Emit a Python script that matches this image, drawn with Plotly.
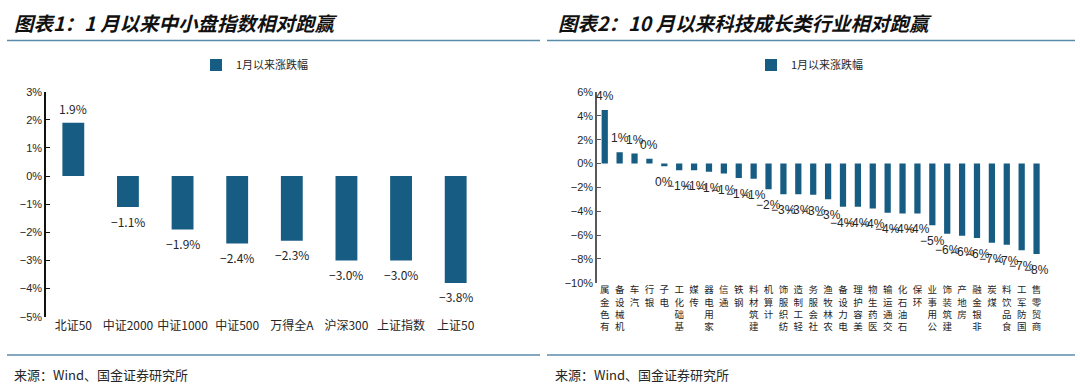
import plotly.graph_objects as go

# ---------------- data ----------------
cats1 = ["北证50", "中证2000", "中证1000", "中证500", "万得全A", "沪深300", "上证指数", "上证50"]
vals1 = [1.9, -1.1, -1.9, -2.4, -2.3, -3.0, -3.0, -3.8]

cats2 = ["有色金属", "机械设备", "汽车", "银行", "电子", "基础化工", "传媒", "家用电器", "通信", "钢铁",
         "建筑材料", "计算机", "纺织服饰", "轻工制造", "社会服务", "农林牧渔", "电力设备", "美容护理", "医药生物", "交通运输",
         "石油石化", "环保", "公用事业", "建筑装饰", "房地产", "非银金融", "煤炭", "食品饮料", "国防军工", "商贸零售"]
vals2 = [4.48, 0.95, 0.84, 0.39, -0.22, -0.56, -0.56, -0.70, -0.84, -1.22,
         -1.28, -2.15, -2.57, -2.57, -2.63, -2.99, -3.63, -3.63, -3.77, -4.14,
         -4.19, -4.19, -5.17, -5.90, -6.07, -6.26, -6.65, -6.82, -7.27, -7.60]

series_name = "1月以来涨跌幅"
title1 = "图表1：1 月以来中小盘指数相对跑赢"
title2 = "图表2：10 月以来科技成长类行业相对跑赢"
source = "来源：Wind、国金证券研究所"

yr1 = [-5, 3]
yr2 = [-10, 6]
yticks1 = list(range(-5, 4))
yticks2 = list(range(-10, 7, 2))

# ---------------- style ----------------
BAR = "#175d83"
TXT = "#262626"
CJK = "Noto Sans CJK SC"
W, H = 1080, 388

dom_x1 = [46 / W, 483 / W]
dom_y1 = [(H - 316.7) / H, (H - 91.7) / H]
dom_x2 = [597.3 / W, 1044 / W]
dom_y2 = [(H - 282.7) / H, (H - 92) / H]


def zero_pos(dom, rng):
    return dom[0] + (0 - rng[0]) / (rng[1] - rng[0]) * (dom[1] - dom[0])


def stacked(s):
    return "<br>".join(reversed(list(s)))


def pct(v):
    return f"{v}%".replace("-", "−")


fig = go.Figure()

fig.add_trace(go.Bar(
    x=cats1, y=vals1, name=series_name, marker=dict(color=BAR, line=dict(width=0)),
    width=0.4, xaxis="x", yaxis="y", legend="legend", showlegend=True))

fig.add_trace(go.Bar(
    x=cats2, y=vals2, name=series_name, marker=dict(color=BAR, line=dict(width=0)),
    width=0.42, xaxis="x2", yaxis="y2", legend="legend2", showlegend=True))

# data labels
for c, v in zip(cats1, vals1):
    fig.add_annotation(x=c, y=v, xref="x", yref="y", text=pct(f"{v:.1f}"), showarrow=False,
                       yshift=14 if v >= 0 else -14, yanchor="middle",
                       font=dict(family=CJK, size=12, color=TXT))
for c, v in zip(cats2, vals2):
    fig.add_annotation(x=c, y=v, xref="x2", yref="y2", text=pct(round(v)), showarrow=False,
                       yshift=14 if v >= 0 else -16, yanchor="middle",
                       font=dict(family="Liberation Sans Narrow, Liberation Sans", size=12, color=TXT))

n1, n2 = len(cats1), len(cats2)

fig.update_layout(
    width=W, height=H, margin=dict(l=0, r=0, t=0, b=0, pad=0, autoexpand=False),
    paper_bgcolor="white", plot_bgcolor="white", showlegend=True,
    xaxis=dict(domain=dom_x1, anchor="y", type="category", range=[-0.5, n1 - 0.5],
               showline=False, ticks="", showgrid=False,
               tickfont=dict(family=CJK, size=12, color=TXT)),
    yaxis=dict(domain=dom_y1, anchor="x", range=yr1, tickvals=yticks1,
               ticktext=[pct(t) for t in yticks1], showgrid=False, zeroline=False, showline=True,
               linecolor="#111111", linewidth=1.5, ticks="inside", ticklen=4, tickcolor="#111111",
               tickfont=dict(family="Liberation Sans", size=11, color=TXT)),
    xaxis3=dict(overlaying="x", anchor="free", position=zero_pos(dom_y1, yr1), type="linear",
                range=[-0.5, n1 - 0.5], tickvals=[i + 0.5 for i in range(n1)],
                showticklabels=False, ticks="inside", ticklen=4, tickcolor="#111111",
                showline=True, linecolor="#111111", linewidth=1.2, showgrid=False, zeroline=False),
    xaxis2=dict(domain=dom_x2, anchor="y2", type="category", range=[-0.5, n2 - 0.5],
                showline=False, ticks="", showgrid=False,
                tickvals=cats2, ticktext=[stacked(c) for c in cats2],
                tickfont=dict(family=CJK, size=9.5, color=TXT)),
    yaxis2=dict(domain=dom_y2, anchor="x2", range=yr2, tickvals=yticks2,
                ticktext=[pct(t) for t in yticks2], showgrid=False, zeroline=False, showline=True,
                linecolor="#595959", linewidth=2, ticks="inside", ticklen=4, tickcolor="#595959",
                tickfont=dict(family="Liberation Sans", size=11, color=TXT)),
    xaxis4=dict(overlaying="x2", anchor="free", position=zero_pos(dom_y2, yr2), type="linear",
                range=[-0.5, n2 - 0.5], tickvals=[i + 0.5 for i in range(n2)],
                showticklabels=False, ticks="inside", ticklen=4, tickcolor="#404040",
                showline=True, linecolor="#404040", linewidth=1.5, showgrid=False, zeroline=False),
    legend=dict(x=255 / W, y=(H - 65) / H, xanchor="center", yanchor="middle",
                font=dict(family=CJK, size=11, color=TXT), bgcolor="rgba(0,0,0,0)"),
    legend2=dict(x=810 / W, y=(H - 65) / H, xanchor="center", yanchor="middle",
                 font=dict(family=CJK, size=11, color=TXT), bgcolor="rgba(0,0,0,0)"),
)

LINE = "#5a8bab"
for x0, x1 in [(7 / W, 540 / W), (547 / W, 1075 / W)]:
    fig.add_shape(type="line", xref="paper", yref="paper", x0=x0, x1=x1,
                  y0=(H - 40.5) / H, y1=(H - 40.5) / H, line=dict(color=LINE, width=1.5))
    fig.add_shape(type="line", xref="paper", yref="paper", x0=x0, x1=x1,
                  y0=(H - 355) / H, y1=(H - 355) / H, line=dict(color=LINE, width=1.5))

for x, t in [(12 / W, title1), (556 / W, title2)]:
    fig.add_annotation(x=x, y=(H - 22) / H, xref="paper", yref="paper", xanchor="left", yanchor="middle",
                       text=f"<b><i>{t}</i></b>", showarrow=False,
                       font=dict(family=CJK, size=19.5, color="#111111"))

for x in [12 / W, 553 / W]:
    fig.add_annotation(x=x, y=(H - 374) / H, xref="paper", yref="paper", xanchor="left", yanchor="middle",
                       text=source, showarrow=False, font=dict(family=CJK, size=13, color=TXT))

fig.write_html("out.html", config={"displayModeBar": False},
               post_script="document.body.style.margin='0';document.body.style.overflow='hidden';")
